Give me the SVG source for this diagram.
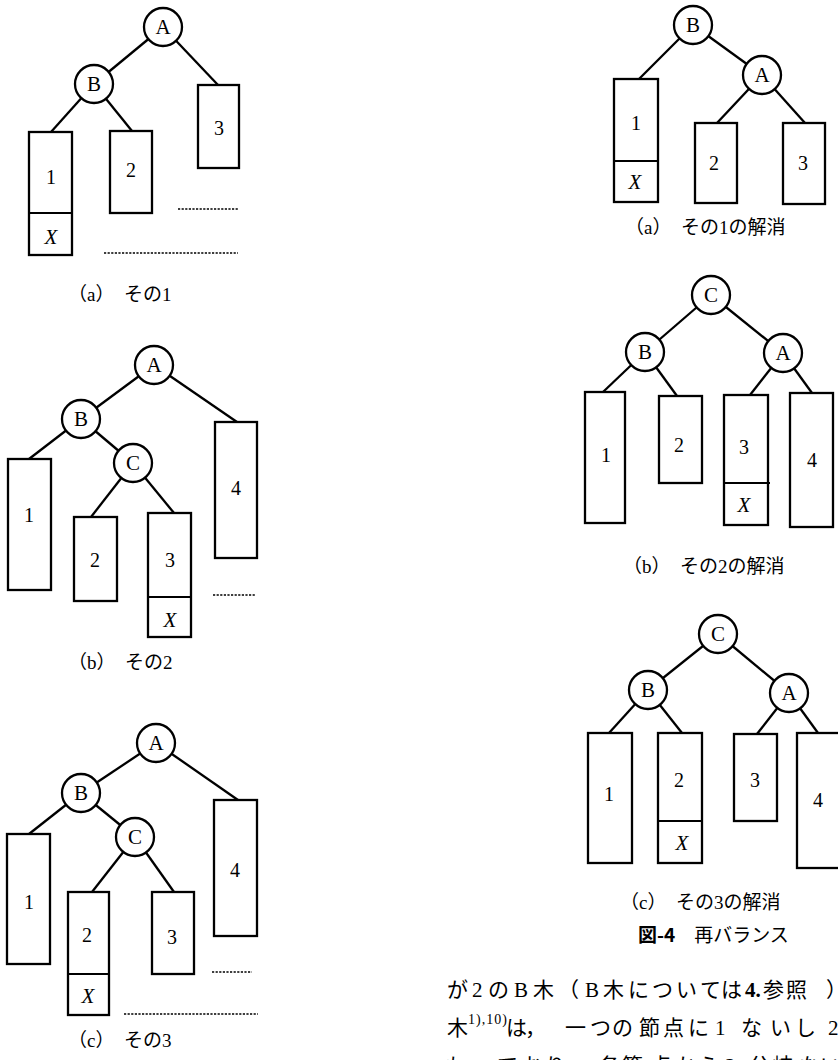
<svg xmlns="http://www.w3.org/2000/svg" width="838" height="1060" viewBox="0 0 838 1060">
<style>
.e{stroke:#000;stroke-width:2.3;fill:none}
.n{fill:#fff;stroke:#000;stroke-width:2.3}
.b{fill:#fff;stroke:#000;stroke-width:2.3}
.d{stroke:#000;stroke-width:2;fill:none}
.dot{stroke:#000;stroke-width:1.6;stroke-dasharray:2.2 1.4;fill:none}
.l{font-family:"Liberation Serif","Noto Sans CJK JP",serif;font-size:21px;text-anchor:middle;fill:#000}
.g{font-family:"Liberation Serif","Noto Sans CJK JP",serif;font-size:20px;text-anchor:middle;fill:#000}
.x{font-family:"Liberation Serif",serif;font-size:21px;font-style:italic;text-anchor:middle;fill:#000}
.c{font-family:"Liberation Serif","Noto Sans CJK JP",serif;font-size:19px;fill:#000}
.j{font-family:"Noto Sans CJK JP",sans-serif}
.t{font-family:"Liberation Serif","Noto Sans CJK JP",serif;font-size:21px;fill:#000}
.sup{font-family:"Liberation Serif",serif;font-size:14px;letter-spacing:1px;fill:#000}
</style>
<rect width="838" height="1060" fill="#fff"/>

<!-- Connectors -->
<g id="connectors">
  <!-- left a -->
  <line class="e" x1="163" y1="27" x2="94" y2="84"/>
  <line class="e" x1="163" y1="27" x2="218" y2="85"/>
  <line class="e" x1="94" y1="84" x2="51" y2="132"/>
  <line class="e" x1="94" y1="84" x2="132" y2="131"/>
  <!-- left b -->
  <line class="e" x1="154" y1="365" x2="81" y2="419"/>
  <line class="e" x1="154" y1="365" x2="237" y2="422"/>
  <line class="e" x1="81" y1="419" x2="29" y2="459"/>
  <line class="e" x1="81" y1="419" x2="133" y2="463"/>
  <line class="e" x1="133" y1="463" x2="91" y2="517"/>
  <line class="e" x1="133" y1="463" x2="174" y2="513"/>
  <!-- left c -->
  <line class="e" x1="156" y1="743" x2="81" y2="793"/>
  <line class="e" x1="156" y1="743" x2="238" y2="800"/>
  <line class="e" x1="81" y1="793" x2="29" y2="834"/>
  <line class="e" x1="81" y1="793" x2="135" y2="837"/>
  <line class="e" x1="135" y1="837" x2="92" y2="892"/>
  <line class="e" x1="135" y1="837" x2="174" y2="892"/>
  <!-- right a -->
  <line class="e" x1="693" y1="25" x2="639" y2="79"/>
  <line class="e" x1="693" y1="25" x2="762" y2="75"/>
  <line class="e" x1="762" y1="75" x2="717" y2="123"/>
  <line class="e" x1="762" y1="75" x2="805" y2="123"/>
  <!-- right b -->
  <line class="e" x1="711" y1="295" x2="645" y2="352"/>
  <line class="e" x1="711" y1="295" x2="783" y2="353"/>
  <line class="e" x1="645" y1="352" x2="603" y2="392"/>
  <line class="e" x1="645" y1="352" x2="677" y2="396"/>
  <line class="e" x1="783" y1="353" x2="750" y2="395"/>
  <line class="e" x1="783" y1="353" x2="812" y2="393"/>
  <!-- right c -->
  <line class="e" x1="718" y1="634" x2="648" y2="690"/>
  <line class="e" x1="718" y1="634" x2="789" y2="693"/>
  <line class="e" x1="648" y1="690" x2="609" y2="733"/>
  <line class="e" x1="648" y1="690" x2="682" y2="733"/>
  <line class="e" x1="789" y1="693" x2="757" y2="734"/>
  <line class="e" x1="789" y1="693" x2="818" y2="733"/>
</g>

<!-- Figure (a) left -->
<g id="la-A"><circle class="n" cx="163" cy="27" r="19"/><text class="l" x="163" y="34">A</text></g>
<g id="la-B"><circle class="n" cx="94" cy="84" r="19"/><text class="l" x="94" y="91">B</text></g>
<g id="la-1"><rect class="b" x="29" y="132" width="43" height="123"/><line class="d" x1="29" y1="213" x2="72" y2="213"/><text class="g" x="51" y="184">1</text><text class="x" x="51" y="244">X</text></g>
<g id="la-2"><rect class="b" x="110" y="131" width="42" height="82"/><text class="g" x="131" y="177">2</text></g>
<g id="la-3"><rect class="b" x="198" y="85" width="41" height="83"/><text class="g" x="219" y="135">3</text></g>
<g id="la-dots"><line class="dot" x1="178" y1="209" x2="238" y2="209"/><line class="dot" x1="104" y1="253" x2="238" y2="253"/></g>
<text class="c" x="68" y="301"><tspan class="j">（</tspan>a<tspan class="j">）　その</tspan>1</text>

<!-- Figure (b) left -->
<g id="lb-A"><circle class="n" cx="154" cy="365" r="19"/><text class="l" x="154" y="372">A</text></g>
<g id="lb-B"><circle class="n" cx="81" cy="419" r="19"/><text class="l" x="81" y="426">B</text></g>
<g id="lb-C"><circle class="n" cx="133" cy="463" r="19"/><text class="l" x="133" y="470">C</text></g>
<g id="lb-1"><rect class="b" x="8" y="459" width="43" height="131"/><text class="g" x="29" y="522">1</text></g>
<g id="lb-2"><rect class="b" x="74" y="517" width="43" height="84"/><text class="g" x="95" y="567">2</text></g>
<g id="lb-3"><rect class="b" x="148" y="513" width="43" height="124"/><line class="d" x1="148" y1="597" x2="191" y2="597"/><text class="g" x="170" y="567">3</text><text class="x" x="170" y="627">X</text></g>
<g id="lb-4"><rect class="b" x="215" y="422" width="42" height="136"/><text class="g" x="236" y="495">4</text></g>
<g id="lb-dots"><line class="dot" x1="213" y1="595" x2="255" y2="595"/></g>
<text class="c" x="68" y="669"><tspan class="j">（</tspan>b<tspan class="j">）　その</tspan>2</text>

<!-- Figure (c) left -->
<g id="lc-A"><circle class="n" cx="156" cy="743" r="19"/><text class="l" x="156" y="750">A</text></g>
<g id="lc-B"><circle class="n" cx="81" cy="793" r="19"/><text class="l" x="81" y="800">B</text></g>
<g id="lc-C"><circle class="n" cx="135" cy="837" r="19"/><text class="l" x="135" y="844">C</text></g>
<g id="lc-1"><rect class="b" x="7" y="834" width="43" height="130"/><text class="g" x="29" y="909">1</text></g>
<g id="lc-2"><rect class="b" x="68" y="892" width="41" height="123"/><line class="d" x1="68" y1="974" x2="109" y2="974"/><text class="g" x="87" y="942">2</text><text class="x" x="88" y="1003">X</text></g>
<g id="lc-3"><rect class="b" x="152" y="892" width="42" height="82"/><text class="g" x="172" y="944">3</text></g>
<g id="lc-4"><rect class="b" x="214" y="800" width="43" height="136"/><text class="g" x="235" y="877">4</text></g>
<g id="lc-dots"><line class="dot" x1="212" y1="972" x2="252" y2="972"/><line class="dot" x1="124" y1="1014" x2="258" y2="1014"/></g>
<text class="c" x="68" y="1047"><tspan class="j">（</tspan>c<tspan class="j">）　その</tspan>3</text>

<!-- Figure (a) right -->
<g id="ra-B"><circle class="n" cx="693" cy="25" r="19"/><text class="l" x="693" y="32">B</text></g>
<g id="ra-A"><circle class="n" cx="762" cy="75" r="19"/><text class="l" x="762" y="82">A</text></g>
<g id="ra-1"><rect class="b" x="614" y="79" width="44" height="123"/><line class="d" x1="614" y1="161" x2="658" y2="161"/><text class="g" x="636" y="130">1</text><text class="x" x="635" y="189">X</text></g>
<g id="ra-2"><rect class="b" x="695" y="123" width="42" height="80"/><text class="g" x="714" y="170">2</text></g>
<g id="ra-3"><rect class="b" x="783" y="123" width="42" height="81"/><text class="g" x="803" y="170">3</text></g>
<text class="c" x="625" y="234"><tspan class="j">（</tspan>a<tspan class="j">）　その</tspan>1<tspan class="j">の解消</tspan></text>

<!-- Figure (b) right -->
<g id="rb-C"><circle class="n" cx="711" cy="295" r="19"/><text class="l" x="711" y="302">C</text></g>
<g id="rb-B"><circle class="n" cx="645" cy="352" r="19"/><text class="l" x="645" y="359">B</text></g>
<g id="rb-A"><circle class="n" cx="783" cy="353" r="19"/><text class="l" x="783" y="360">A</text></g>
<g id="rb-1"><rect class="b" x="585" y="392" width="40" height="131"/><text class="g" x="606" y="462">1</text></g>
<g id="rb-2"><rect class="b" x="659" y="396" width="43" height="87"/><text class="g" x="679" y="452">2</text></g>
<g id="rb-3"><rect class="b" x="724" y="395" width="44" height="130"/><line class="d" x1="724" y1="483" x2="770" y2="483"/><text class="g" x="744" y="454">3</text><text class="x" x="744" y="512">X</text></g>
<g id="rb-4"><rect class="b" x="790" y="393" width="43" height="134"/><text class="g" x="812" y="467">4</text></g>
<text class="c" x="623" y="573"><tspan class="j">（</tspan>b<tspan class="j">）　その</tspan>2<tspan class="j">の解消</tspan></text>

<!-- Figure (c) right -->
<g id="rc-C"><circle class="n" cx="718" cy="634" r="19"/><text class="l" x="718" y="641">C</text></g>
<g id="rc-B"><circle class="n" cx="648" cy="690" r="19"/><text class="l" x="648" y="697">B</text></g>
<g id="rc-A"><circle class="n" cx="789" cy="693" r="19"/><text class="l" x="789" y="700">A</text></g>
<g id="rc-1"><rect class="b" x="588" y="733" width="44" height="130"/><text class="g" x="609" y="801">1</text></g>
<g id="rc-2"><rect class="b" x="658" y="733" width="44" height="130"/><line class="d" x1="658" y1="821" x2="702" y2="821"/><text class="g" x="679" y="787">2</text><text class="x" x="682" y="850">X</text></g>
<g id="rc-3"><rect class="b" x="734" y="734" width="43" height="87"/><text class="g" x="755" y="787">3</text></g>
<g id="rc-4"><rect class="b" x="797" y="733" width="45" height="135"/><text class="g" x="818" y="807">4</text></g>
<text class="c" x="620" y="909"><tspan class="j">（</tspan>c<tspan class="j">）　その</tspan>3<tspan class="j">の解消</tspan></text>
<text class="c" x="638" y="942"><tspan class="j" font-weight="bold">図-4</tspan><tspan class="j">　再バランス</tspan></text>

<!-- Body text -->
<text class="t" y="997" x="447 472 488 514 533 558 585 603 628 652 676 700 721">が2のB木（B木については</text>
<text class="t" y="997" x="745" font-weight="bold">4.</text>
<text class="t" y="997" x="763 786 826">参照）</text>
<text class="t" y="1035" x="447">木</text>
<text class="sup" y="1024" x="468">1),10)</text>
<text class="t" y="1035" x="506 525 565 590 612 639 663 688 715 741 770 795 828">は，一つの節点に1ないし2</text>
<text class="t" y="1073" x="445 472 497 522 545 568 599 622 650 675 698 725 749 772 799 820">もっており，各節点から2分岐ない</text>
</svg>
